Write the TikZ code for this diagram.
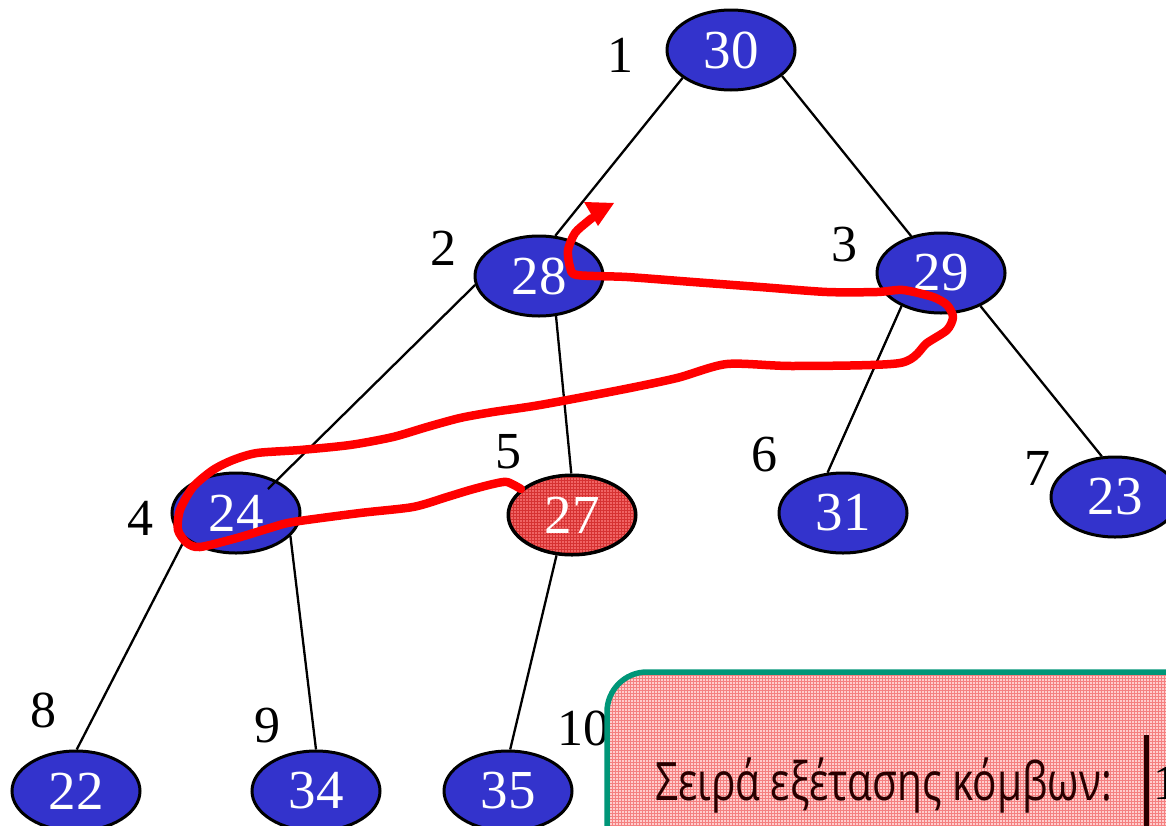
\documentclass[tikz,border=0pt]{standalone}
\usepackage{fontspec}
\setmainfont{Liberation Serif}
\newfontfamily\boxfont{Open Sans}
\usetikzlibrary{shapes.geometric,arrows.meta,patterns,calc}

\definecolor{heapblue}{RGB}{51,51,204}
\definecolor{hotred}{RGB}{255,0,0}
\definecolor{curred}{RGB}{240,100,100}
\definecolor{curgrid}{RGB}{214,50,50}
\definecolor{notepink}{RGB}{255,205,205}
\definecolor{notegrid}{RGB}{244,128,128}
\definecolor{noteedge}{RGB}{0,150,120}
\definecolor{notetext}{RGB}{40,0,0}

\tikzset{
  heapnode/.style={ellipse, draw=black, line width=3pt, fill=heapblue,
    minimum width=128pt, minimum height=80pt, inner sep=0pt,
    text=white, font=\fontsize{55}{55}\selectfont},
  curnode/.style={heapnode, fill=curred},
  idxlabel/.style={inner sep=0pt, font=\fontsize{52}{52}\selectfont},
  treeedge/.style={draw=black, line width=2.3pt},
  walk/.style={draw=hotred, line width=8.5pt, line cap=round, line join=round}
}

\begin{document}
\begin{tikzpicture}[x=1pt,y=-1pt]
\clip (0,0) rectangle (1166,825);
\fill[white] (0,0) rectangle (1166,825);

% heap nodes
\node[heapnode] (n30) at (731,50)  {30};
\node[heapnode] (n28) at (539,276) {28};
\node[heapnode] (n29) at (941,273) {29};
\node[heapnode] (n24) at (236,513) {24};
\node[curnode]  (n27) at (572,515) {};
\fill[pattern=grid, pattern color=curgrid] (n27.center) ellipse [x radius=62pt, y radius=38pt];
\draw[line width=3pt] (n27.center) ellipse [x radius=63.5pt, y radius=39.5pt];
\node[text=white, inner sep=0pt, font=\fontsize{55}{55}\selectfont] (t27) at (n27.center) {27};
\node[heapnode] (n31) at (843,513) {31};
\node[heapnode] (n23) at (1115,497) {23};
\node[heapnode] (n22) at (76,791)  {22};
\node[heapnode] (n34) at (316,791) {34};
\node[heapnode] (n35) at (508,791) {35};

% position labels
\node[idxlabel] (l1)  at (620,55)  {1};
\node[idxlabel] (l2)  at (443,248) {2};
\node[idxlabel] (l3)  at (844,245) {3};
\node[idxlabel] (l4)  at (140,518) {4};
\node[idxlabel] (l5)  at (508,452) {5};
\node[idxlabel] (l6)  at (764,455) {6};
\node[idxlabel] (l7)  at (1037,468) {7};
\node[idxlabel] (l8)  at (43,710)  {8};
\node[idxlabel] (l9)  at (267,726) {9};
\node[idxlabel] (l10) at (583,728) {10};

% tree edges
\draw[treeedge] (n30.210) -- (n28.68);
\draw[treeedge] (n30.333) -- (n29.129);
\draw[treeedge] (n28.188) -- ($(n24.center)+(32,-24)$);
\draw[treeedge] (n28.293) -- (n27.91);
\draw[treeedge] (n29.220) -- (n31.111);
\draw[treeedge] (n29.320) -- (n23.108);
\draw[treeedge] (n24.207) -- (n22.89);
\draw[treeedge] (n24.337) -- (n34.90);
\draw[treeedge] (n27.249) -- (n35.87);

% traversal order curve
\draw[walk]
  plot[smooth, tension=0.45] coordinates {
    (n27.153) (507,482) (493,484) (470,490) (447,497) (413,507) (360,513)
    (293,522) (270,528) (237,538) (200,547) (187,543) (178,530) (180,510)
    (193,487) (213,470) (233,460) (257,453) (300,450) (350,445) (393,437)
    (427,427) (460,418) (493,412) (540,405) (620,390) (677,378) (727,364)
    (793,366) (900,363) (927,343) (947,330) (953,317) (947,305) (933,297)
    (903,290) (877,292) (827,292) (760,287) (693,282) (627,277) (577,275)
    (570,267) (568,250) (575,233) (587,222) (592,218)};
\coordinate (walkend) at (614,203);
\fill[hotred] (walkend) -- ++(-30,-1) -- ++(14,24) -- cycle;

% note box
\fill[notepink, rounded corners=40pt] (607,672) rectangle (1220,880);
\fill[pattern=grid, pattern color=notegrid, rounded corners=40pt] (607,672) rectangle (1220,880);
\draw[noteedge, line width=5.5pt, rounded corners=40pt] (607,672) rectangle (1220,880);
\node[anchor=base west, inner sep=0pt, text=notetext] (order) at (655,800)
  {\boxfont\fontsize{53}{53}\selectfont\scalebox{0.765}[1]{Σειρά εξέτασης κόμβων:}};
\fill[notetext] (1144,735) rectangle (1149,830);
\node[anchor=base west, inner sep=0pt, font=\fontsize{50}{50}\selectfont] (first) at (1153,799) {1};
\end{tikzpicture}
\end{document}
